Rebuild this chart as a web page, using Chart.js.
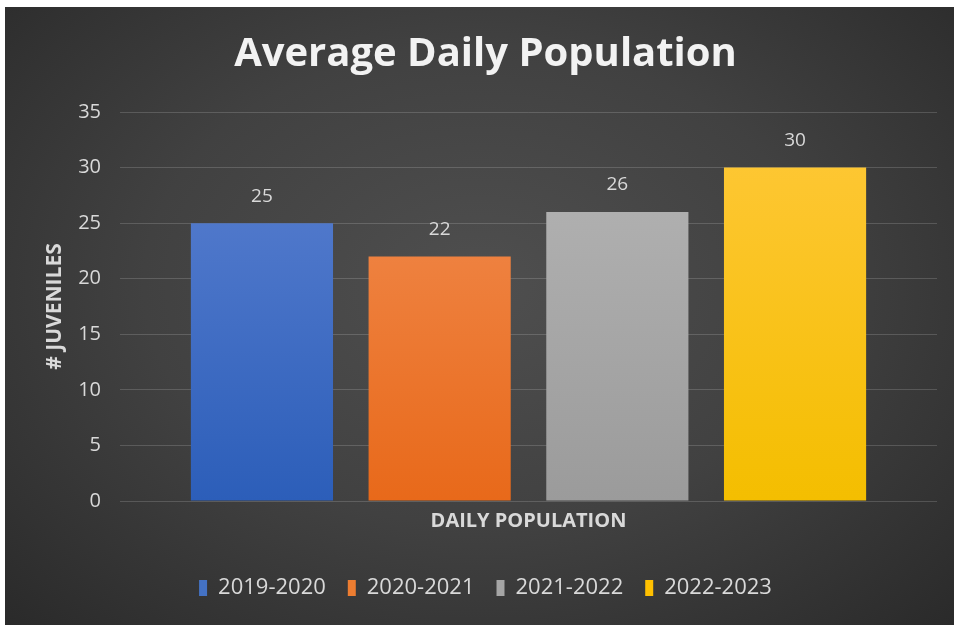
<!DOCTYPE html>
<html>
<head>
<meta charset="utf-8">
<script src="https://cdn.jsdelivr.net/npm/chart.js@4.4.1/dist/chart.umd.min.js"></script>
<style>
  html, body { margin: 0; padding: 0; background: #ffffff; }
  #frame {
    position: absolute; left: 5px; top: 7px; width: 949px; height: 618px;
    background: radial-gradient(ellipse at 50% 45%, #4f4f4f 0%, #414141 50%, #2a2a2a 100%);
  }
</style>
</head>
<body>
<div id="frame"><canvas id="canvas"></canvas></div>
<script>
// chart data
var seasons = ['2019-2020', '2020-2021', '2021-2022', '2022-2023'];
var population = [25, 22, 26, 30];
var category = ['DAILY POPULATION'];
var yTicks = [0, 5, 10, 15, 20, 25, 30, 35];

var solidColors = ['#4472c4', '#ed7d31', '#a5a5a5', '#ffc000'];
var topColors = ['#5d82d2', '#f28f55', '#b6b6b6', '#ffc83a'];
var bottomColors = ['#2c5eb9', '#e8691a', '#9b9b9b', '#f4be00'];

function barFill(i) {
    return function(c) {
        var area = c.chart.chartArea;
        if (!area) return solidColors[i];
        var g = c.chart.ctx.createLinearGradient(0, area.top, 0, area.bottom);
        g.addColorStop(0, topColors[i]);
        g.addColorStop(1, bottomColors[i]);
        return g;
    };
}

var datasets = seasons.map(function(s, i) {
    return {
        label: s,
        data: [population[i]],
        backgroundColor: barFill(i),
        borderWidth: 0,
        barPercentage: 0.8,
        categoryPercentage: 0.87
    };
});

// value labels above bars
var valueLabels = {
    id: 'valueLabels',
    afterDatasetsDraw: function(chart) {
        var ctx = chart.ctx;
        ctx.save();
        ctx.font = '19px "Open Sans"';
        ctx.fillStyle = '#d9d9d9';
        ctx.textAlign = 'center';
        ctx.textBaseline = 'middle';
        chart.data.datasets.forEach(function(ds, i) {
            chart.getDatasetMeta(i).data.forEach(function(bar, j) {
                ctx.fillText(ds.data[j], bar.x, bar.y - 27);
            });
        });
        ctx.restore();
    }
};

var ctx = document.getElementById('canvas').getContext('2d');
var myChart = new Chart(ctx, {
    type: 'bar',
    data: {
        labels: category,
        datasets: datasets
    },
    plugins: [valueLabels],
    options: {
        responsive: true,
        maintainAspectRatio: false,
        animation: false,
        layout: {
            padding: { left: 29, right: 17, top: 0, bottom: 16 }
        },
        plugins: {
            title: {
                display: true,
                text: 'Average Daily Population',
                color: '#f2f2f2',
                font: { family: 'Open Sans', size: 40, weight: 'bold' },
                padding: { top: 24, bottom: 33 }
            },
            legend: {
                position: 'bottom',
                labels: {
                    color: '#d9d9d9',
                    font: { family: 'Open Sans', size: 22 },
                    boxWidth: 8,
                    boxHeight: 16,
                    padding: 22,
                    generateLabels: function(chart) {
                        return seasons.map(function(s, i) {
                            return {
                                text: s,
                                fillStyle: solidColors[i],
                                strokeStyle: solidColors[i],
                                lineWidth: 0,
                                fontColor: '#d9d9d9',
                                datasetIndex: i
                            };
                        });
                    }
                }
            },
            tooltip: { enabled: false }
        },
        scales: {
            x: {
                ticks: { display: false },
                grid: { display: false },
                border: { display: false },
                title: {
                    display: true,
                    text: category[0],
                    color: '#d9d9d9',
                    font: { family: 'Open Sans', size: 20, weight: 'bold' },
                    padding: { top: 0, bottom: 22 }
                }
            },
            y: {
                min: 0,
                max: 35,
                afterBuildTicks: function(scale) {
                    scale.ticks = yTicks.map(function(v) { return { value: v }; });
                },
                afterFit: function(scale) {
                    scale.width = 86;
                },
                ticks: {
                    color: '#d9d9d9',
                    font: { family: 'Open Sans', size: 20 },
                    padding: 19
                },
                grid: {
                    color: 'rgba(255,255,255,0.16)',
                    drawTicks: false
                },
                border: { display: false },
                title: {
                    display: true,
                    text: '# JUVENILES',
                    color: '#d9d9d9',
                    font: { family: 'Open Sans', size: 21, weight: 'bold' },
                    padding: { top: 8, bottom: 5 }
                }
            }
        }
    }
});
</script>
</body>
</html>
